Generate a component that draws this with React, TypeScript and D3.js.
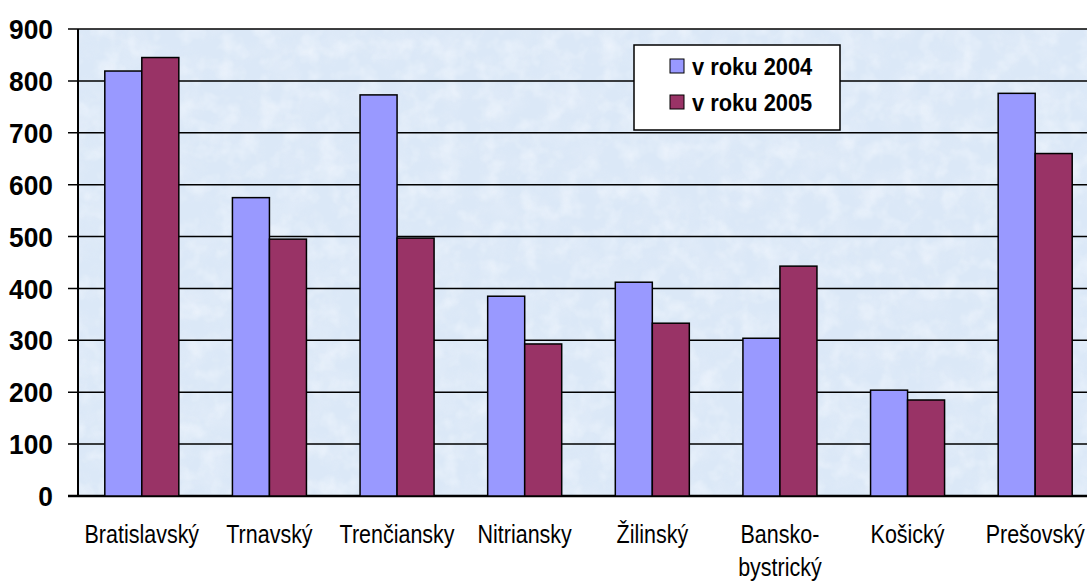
import React from "react";
import * as d3 from "d3";

const categories = ["Bratislavský", "Trnavský", "Trenčiansky", "Nitriansky", "Žilinský", "Bansko-\nbystrický", "Košický", "Prešovský"];
const series2004 = [819, 575, 773, 385, 412, 304, 204, 776];
const series2005 = [845, 495, 497, 293, 333, 443, 185, 660];
const seriesNames = ["v roku 2004", "v roku 2005"];
const seriesColors = ["#9999FF", "#993366"];
const yTicks = [0, 100, 200, 300, 400, 500, 600, 700, 800, 900];

const W = 1087, H = 581;
const left = 78, right = 1099, top = 29, bottom = 496;
const FONT = "'Liberation Sans', Arial, sans-serif";

export default function App() {
  const x = d3.scaleBand<string>().domain(categories).range([left, right]).paddingInner(0.42).paddingOuter(0.21);
  const xs = d3.scaleBand<string>().domain(seriesNames).range([0, x.bandwidth()]);
  const y = d3.scaleLinear().domain([0, 900]).range([bottom, top]);
  const data = [series2004, series2005];

  return (
    <svg width={W} height={H} style={{ position: "absolute", left: 0, top: 0, background: "#fff" }}>
      <defs>
        <filter id="tex" x="0" y="0" width="100%" height="100%">
          <feTurbulence type="fractalNoise" baseFrequency="0.035" numOctaves={4} seed={7} result="n" />
          <feColorMatrix in="n" type="matrix" values="0 0 0 0 0.78  0 0 0 0 0.85  0 0 0 0 0.95  0 0 0 -2.0 1.25" result="c" />
          <feComposite in="c" in2="SourceGraphic" operator="in" />
        </filter>
        <filter id="tex2" x="0" y="0" width="100%" height="100%">
          <feTurbulence type="fractalNoise" baseFrequency="0.05" numOctaves={3} seed={2} result="n" />
          <feColorMatrix in="n" type="matrix" values="0 0 0 0 0.95  0 0 0 0 0.97  0 0 0 0 1  0 0 0 -2.0 1.1" result="c" />
          <feComposite in="c" in2="SourceGraphic" operator="in" />
        </filter>
      </defs>
      <rect x={left} y={top} width={right - left} height={bottom - top} fill="#dbe8f7" />
      <rect x={left} y={top} width={right - left} height={bottom - top} fill="#fff" filter="url(#tex)" opacity={0.6} />
      <rect x={left} y={top} width={right - left} height={bottom - top} fill="#fff" filter="url(#tex2)" opacity={0.5} />
      {yTicks.map(t => (
        <g key={t}>
          <line x1={68} x2={right} y1={y(t)} y2={y(t)} stroke="#000" strokeWidth={t === 0 ? 2.5 : 1.5} />
          <g transform={`translate(53,${y(t)}) scale(0.94,1)`}>
            <text x={0} y={0} dy="0.36em" textAnchor="end" fontFamily={FONT} fontWeight="bold" fontSize={28} fill="#000">{t}</text>
          </g>
        </g>
      ))}
      <line x1={left} x2={left} y1={top} y2={bottom} stroke="#000" strokeWidth={2} />
      {categories.map((c, i) => (
        <g key={c}>
          {data.map((s, j) => (
            <rect key={j} x={(x(c) as number) + (xs(seriesNames[j]) as number)} y={y(s[i])}
              width={xs.bandwidth()} height={bottom - y(s[i])} fill={seriesColors[j]} stroke="#000" strokeWidth={1.5} />
          ))}
          {c.split("\n").map((line, k) => (
            <g key={k} transform={`translate(${(x(c) as number) + x.bandwidth() / 2},${543 + k * 33}) scale(0.86,1)`}>
              <text x={0} y={0} textAnchor="middle" fontFamily={FONT} fontSize={25} fill="#000">{line}</text>
            </g>
          ))}
        </g>
      ))}
      <g>
        <rect x={634} y={45} width={206} height={85} fill="#fff" stroke="#000" strokeWidth={1.5} />
        {seriesNames.map((n, j) => (
          <g key={n}>
            <rect x={670} y={59 + j * 36} width={14} height={14} fill={seriesColors[j]} stroke="#000" strokeWidth={1} />
            <g transform={`translate(692,${75 + j * 36}) scale(0.93,1)`}>
              <text x={0} y={0} fontFamily={FONT} fontWeight="bold" fontSize={23.5} fill="#000">{n}</text>
            </g>
          </g>
        ))}
      </g>
    </svg>
  );
}
